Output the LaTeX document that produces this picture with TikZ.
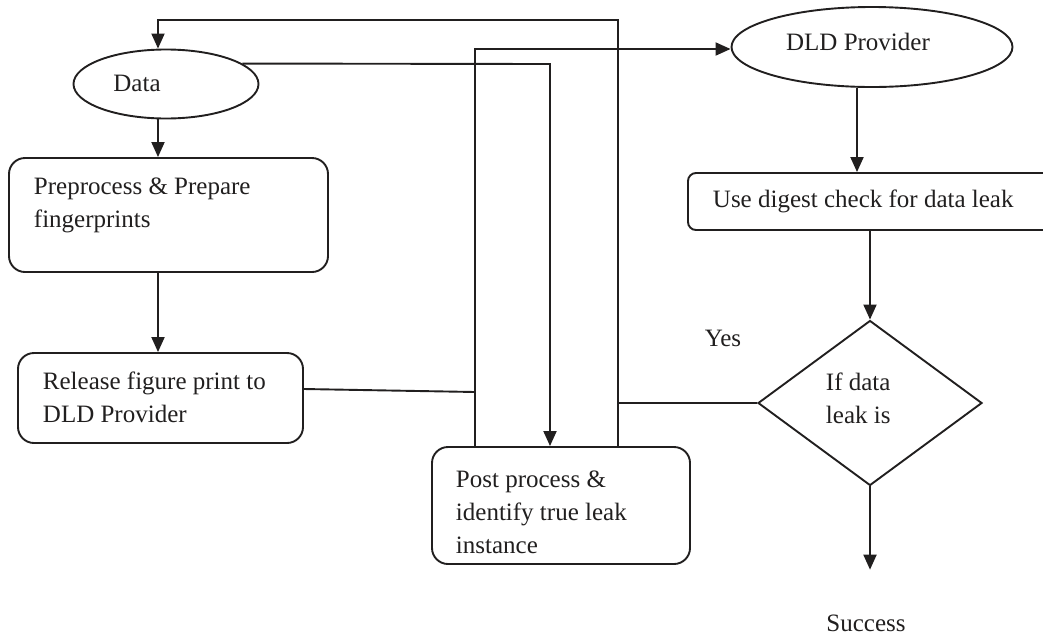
\documentclass[tikz,border=0pt]{standalone}
\usepackage{fontspec}
\setmainfont{Liberation Serif}
\usetikzlibrary{shapes.geometric, arrows.meta, calc, positioning}
\definecolor{inkgray}{rgb}{0.13,0.12,0.12}

\begin{document}
\begin{tikzpicture}[x=1pt,y=-1pt,line width=1.9pt,color=inkgray]
        \tikzstyle{box}=[draw,rectangle,rounded corners=16pt,inner sep=0pt]
        \tikzstyle{oval}=[draw,ellipse,inner sep=0pt]
        \tikzstyle{txt}=[inner sep=0pt,align=left,font=\fontsize{25}{33}\selectfont]
        \tikzstyle{arr}=[-{Triangle[length=15pt,width=13pt]}]
        \useasboundingbox (0,0) rectangle (1043,638);
        % left column
        \node[oval,minimum width=185pt,minimum height=69pt] (data) at (166,84) {};
        \node[txt] (datatxt) at (137,83) {Data};
        \node[box,minimum width=319pt,minimum height=114pt] (prep) at (168.5,215) {};
        \node[txt,anchor=west] (preptxt) at (33,205) {Preprocess \& Prepare\\fingerprints};
        \node[box,minimum width=285pt,minimum height=90pt] (release) at (160.5,398) {};
        \node[txt,anchor=west] (releasetxt) at (42,397) {Release figure print to\\DLD Provider};
        % middle
        \node[box,minimum width=258pt,minimum height=117pt] (post) at (561,505.5) {};
        \node[txt,anchor=west] (posttxt) at (455,512) {Post process \&\\identify true leak\\instance};
        % right column
        \node[oval,minimum width=281pt,minimum height=80pt] (dld) at (872,47) {};
        \node[txt] (dldtxt) at (858,42) {DLD Provider};
        \node[box,rounded corners=8pt,minimum width=372pt,minimum height=57pt] (digest) at (874,201.5) {};
        \node[txt,anchor=west] (digesttxt) at (712,201) {Use digest check for data leak};
        \node[draw,diamond,inner sep=0pt,minimum width=224pt,minimum height=165pt] (dec) at (870,403) {};
        \node[txt,anchor=west] (dectxt) at (825,398) {If data\\leak is};
        \node[txt] (yes) at (723,338) {Yes};
        \node[txt] (succ) at (866,623) {Success};
        % bends of the connectors
        \coordinate (spine) at (158,0);
        \coordinate (looptop) at (618,20);
        \coordinate (dataturn) at (550,64);
        \coordinate (relj) at (475,392);
        \coordinate (relup) at (475,49);
        % down the left column
        \draw[arr] (data.south -| spine) -- (prep.north -| spine);
        \draw[arr] (prep.south -| spine) -- (release.north -| spine);
        % release to provider
        \draw ([yshift=9pt]release.east) -- (relj);
        \draw[arr] (post.north -| relj) -- (relup) -- (relup -| dld.west);
        % data on to post process
        \draw[arr] (data.15) -- (dataturn) -- (dataturn |- post.north);
        % provider checks
        \draw[arr] ([xshift=-15pt]dld.south) -- ([xshift=-15pt]dld.south |- digest.north);
        \draw[arr] (dec.north |- digest.south) -- (dec.north);
        \draw[arr,shorten >=44pt] (dec.south) -- (dec.south |- succ.north);
        % yes goes back round to data
        \draw (dec.west) -- (dec.west -| looptop);
        \draw[arr] (post.north -| looptop) -- (looptop) -| (data.north -| spine);
\end{tikzpicture}
\end{document}
